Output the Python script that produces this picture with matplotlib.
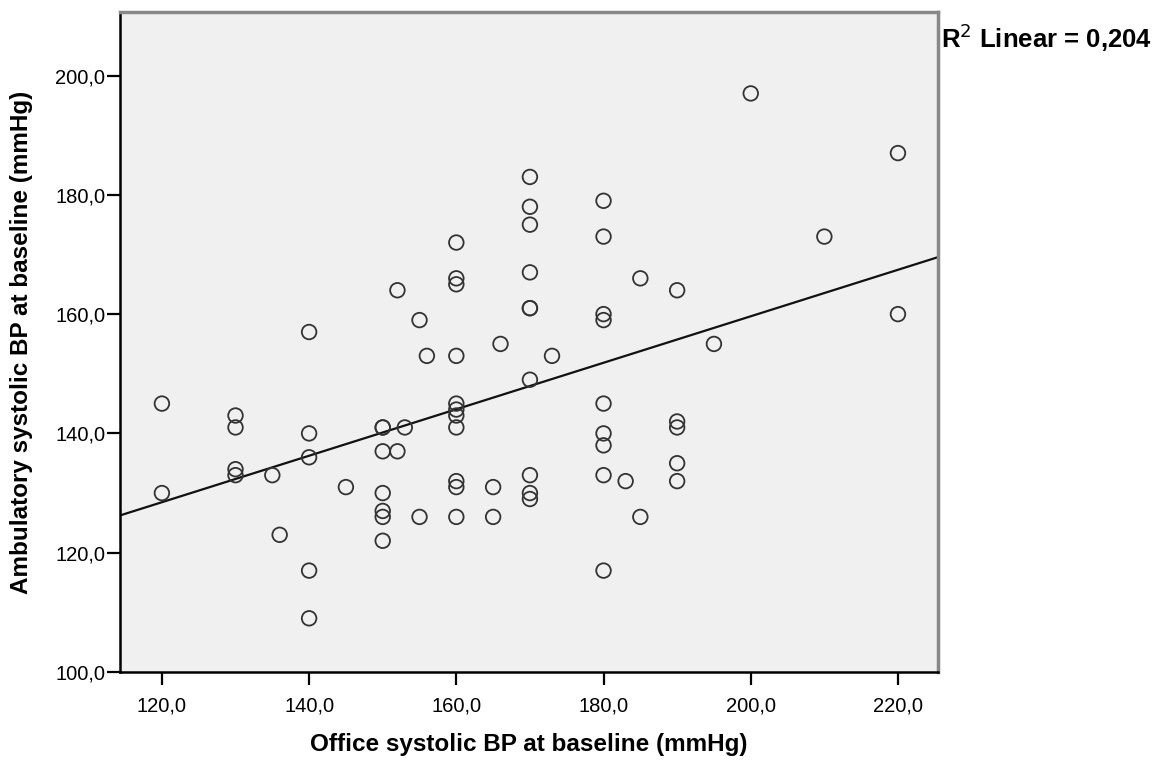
import numpy as np
import matplotlib
matplotlib.use("Agg")
import matplotlib.pyplot as plt
from matplotlib.ticker import FuncFormatter

plt.rcParams['font.family'] = ['Liberation Sans', 'DejaVu Sans']

office_bp = [120, 120,
             130, 130, 130, 130,
             135, 136,
             140, 140, 140, 140, 140,
             145,
             150, 150, 150, 150, 150, 150, 150,
             152, 152, 153, 155, 155, 156,
             160, 160, 160, 160, 160, 160, 160, 160, 160, 160, 160,
             165, 165, 166,
             170, 170, 170, 170, 170, 170, 170, 170, 170, 170,
             173,
             180, 180, 180, 180, 180, 180, 180, 180, 180,
             183, 185, 185,
             190, 190, 190, 190, 190,
             195, 200, 210, 220, 220]
ambulatory_bp = [145, 130,
                 143, 141, 134, 133,
                 133, 123,
                 157, 140, 136, 117, 109,
                 131,
                 141, 141, 137, 130, 127, 126, 122,
                 164, 137, 141, 159, 126, 153,
                 172, 166, 165, 153, 145, 144, 143, 141, 132, 131, 126,
                 131, 126, 155,
                 183, 178, 175, 167, 161, 161, 149, 133, 130, 129,
                 153,
                 179, 173, 160, 159, 145, 140, 138, 133, 117,
                 132, 166, 126,
                 164, 142, 141, 135, 132,
                 155, 197, 173, 187, 160]
x_ticks = [120, 140, 160, 180, 200, 220]
y_ticks = [100, 120, 140, 160, 180, 200]
r2_label = "R$^2$ Linear = 0,204"

fig = plt.figure(figsize=(11.6, 7.6), dpi=100)
ax = fig.add_axes([0.1034, 0.1158, 0.7056, 0.868])
ax.set_facecolor('#F0F0F0')

x = np.array(office_bp, dtype=float)
y = np.array(ambulatory_bp, dtype=float)
ax.scatter(x, y, s=110, facecolors='none', edgecolors='#333333', linewidths=1.3, zorder=3)

xmin, xmax = 114.3, 225.5
slope, intercept = np.polyfit(x, y, 1)
xs = np.array([xmin, xmax])
ax.plot(xs, slope * xs + intercept, color='#111111', lw=1.6, zorder=2)

ax.set_xlim(xmin, xmax)
ax.set_ylim(100, 210.6)
ax.set_xticks(x_ticks)
ax.set_yticks(y_ticks)
fmt = FuncFormatter(lambda v, p: f"{v:.1f}".replace('.', ','))
ax.xaxis.set_major_formatter(fmt)
ax.yaxis.set_major_formatter(fmt)
ax.tick_params(direction='out', length=9.5, width=1.6, labelsize=14.5, colors='black')
ax.tick_params(axis='x', pad=8)
ax.tick_params(axis='y', pad=1)

for s in ['left', 'bottom']:
    ax.spines[s].set_color('black')
    ax.spines[s].set_linewidth(1.8)
for s in ['top', 'right']:
    ax.spines[s].set_color('#888888')
    ax.spines[s].set_linewidth(2.5)

ax.set_xlabel("Office systolic BP at baseline (mmHg)", fontsize=17.5, fontweight='bold', labelpad=13)
ax.set_ylabel("Ambulatory systolic BP at baseline (mmHg)", fontsize=17.5, fontweight='bold', labelpad=16)

fig.text(0.811, 0.950, r2_label, fontsize=18.5, fontweight='bold', ha='left', va='center')

fig.savefig("out.png", dpi=100, facecolor='white')
